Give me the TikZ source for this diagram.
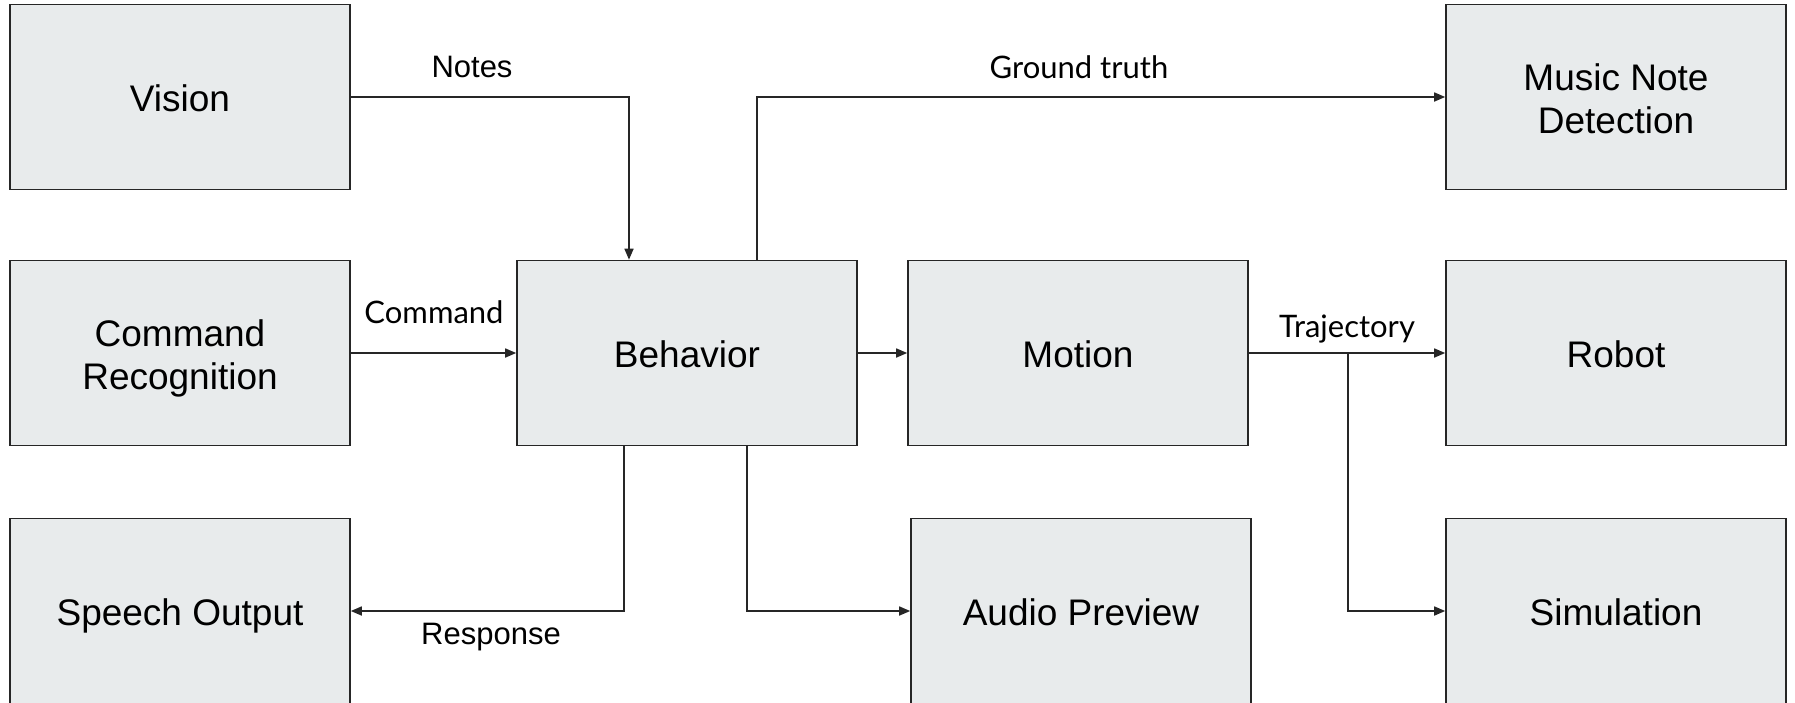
\documentclass[tikz,border=0pt]{standalone}
\usepackage{fontspec}
\setmainfont{Liberation Sans}
\newfontfamily\lato{Lato}
\usetikzlibrary{arrows.meta}
\definecolor{boxfill}{RGB}{232,235,236}
\definecolor{boxline}{RGB}{38,38,38}
% first and last lines of a two-line block, sized alike for centring
\newcommand\firstln[1]{\rule{0pt}{29.5pt}#1}
\newcommand\lastln[1]{\raisebox{0pt}[\height][0pt]{#1}}
\begin{document}
\begin{tikzpicture}[x=1pt,y=-1pt,
  blk/.style={draw=boxline, fill=boxfill, line width=1.6pt,
    minimum width=340pt, minimum height=185pt, inner sep=0pt,
    align=center, font=\fontsize{37}{42.5}\selectfont},
  oneline/.style={text height=28.5pt, text depth=0pt},
  arr/.style={draw=boxline, line width=1.6pt,
    -{Triangle[length=11pt,width=9pt]}},
  lbl/.style={inner sep=0pt, text height=22.5pt, text depth=0pt},
  lblsans/.style={lbl, font=\fontsize{31}{36}\selectfont},
  lbllato/.style={lbl, font=\lato\fontsize{31}{36}\selectfont}]
\useasboundingbox (0,0) rectangle (1795,702);

% processing blocks
\node[blk,oneline] (vision)   at (180,97)   {Vision};
\node[blk] (cmd)              at (180,353)  {\firstln{Command}\\\lastln{Recognition}};
\node[blk,oneline] (speech)   at (180,611)  {Speech Output};
\node[blk,oneline] (behavior) at (687,353)  {Behavior};
\node[blk,oneline] (motion)   at (1078,353) {Motion};
\node[blk,oneline] (audio)    at (1081,611) {Audio Preview};
\node[blk] (mnd)              at (1616,97)  {\firstln{Music Note}\\\lastln{Detection}};
\node[blk,oneline] (robot)    at (1616,353) {Robot};
\node[blk,oneline] (sim)      at (1616,611) {Simulation};

% data flow
\draw[arr] (vision.east) -| ([xshift=-58pt]behavior.north);
\draw[arr] ([xshift=70pt]behavior.north) |- (mnd.west);
\draw[arr] (cmd.east) -- (behavior.west);
\draw[arr] (behavior.east) -- (motion.west);
\draw[arr] (motion.east) -- (robot.west);
\coordinate (split) at ([xshift=99pt]motion.east);
\draw[arr] (split) |- (sim.west);
\draw[arr] ([xshift=-63pt]behavior.south) |- (speech.east);
\draw[arr] ([xshift=60pt]behavior.south) |- (audio.west);

% connector labels
\node[lblsans] (lnotes) at (472,66)  {Notes};
\node[lbllato] (lgt)    at (1079,67) {Ground truth};
\node[lbllato] (lcmd)   at (434,312) {Command};
\node[lbllato] (ltraj)  at (1347,326) {Trajectory};
\node[lblsans] (lresp)  at (491,633) {Response};
\end{tikzpicture}
\end{document}
